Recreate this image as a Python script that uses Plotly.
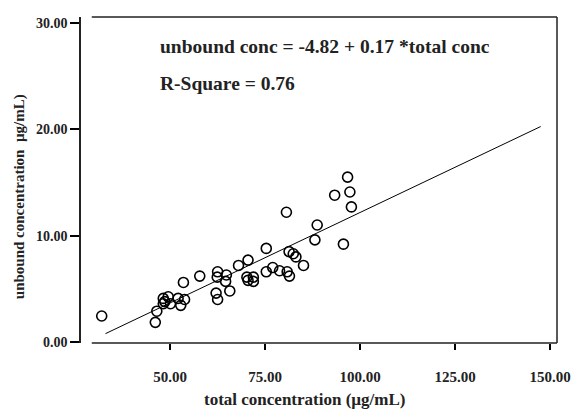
import plotly.graph_objects as go

total_conc = [32.0, 46.1, 46.5, 48.2, 48.6, 49.5, 50.1, 48.2, 52.1, 53.8, 52.8, 53.5,
              57.8, 62.1, 62.5, 62.4, 62.5, 64.6, 64.8, 65.7, 68.0, 70.5, 70.2, 70.5,
              71.9, 71.9, 75.3, 75.3, 77.0, 78.8, 80.6, 80.8, 81.4, 81.3, 82.4, 83.1,
              85.1, 88.1, 88.7, 93.3, 95.6, 96.7, 97.3, 97.7]
unbound_conc = [2.45, 1.85, 2.9, 4.1, 3.8, 4.25, 3.6, 3.6, 4.1, 4.0, 3.45, 5.6,
                6.2, 4.6, 4.0, 6.1, 6.6, 5.7, 6.3, 4.8, 7.2, 7.7, 6.1, 5.8,
                6.1, 5.7, 8.8, 6.6, 7.0, 6.7, 12.2, 6.6, 6.2, 8.5, 8.3, 8.0,
                7.2, 9.6, 11.0, 13.8, 9.2, 15.5, 14.1, 12.7]

intercept = -4.82
slope = 0.17
fit_x = [33.0, 147.5]
fit_y = [intercept + slope * v for v in fit_x]

x_ticks = [50, 75, 100, 125, 150]
y_ticks = [0, 10, 20, 30]

FONT = "Liberation Serif"

fig = go.Figure()
fig.add_trace(go.Scatter(x=fit_x, y=fit_y, mode="lines",
                         line=dict(color="black", width=1), showlegend=False))
fig.add_trace(go.Scatter(x=total_conc, y=unbound_conc, mode="markers",
                         marker=dict(symbol="circle-open", size=10, color="black",
                                     line=dict(color="black", width=1.6)),
                         showlegend=False))

fig.update_layout(
    width=583, height=411,
    margin=dict(l=81, r=16, t=17, b=68),
    paper_bgcolor="white", plot_bgcolor="white",
    font=dict(family=FONT, color="black"),
    xaxis=dict(range=[26.55, 151.8], showline=False, showgrid=False, zeroline=False,
               ticks="outside", ticklen=6, tickwidth=2, tickcolor="black",
               tickvals=x_ticks, ticktext=[f"<b>{v:.2f}</b>" for v in x_ticks],
               tickfont=dict(family=FONT, size=15, color="#222"),
               ticklabelstandoff=14),
    yaxis=dict(range=[-0.09, 30.55], showline=True, linecolor="#222", linewidth=1.5,
               showgrid=False, zeroline=False,
               ticks="outside", ticklen=9, tickwidth=2, tickcolor="black",
               tickvals=y_ticks, ticktext=[f"<b>{v:.2f}</b>" for v in y_ticks],
               tickfont=dict(family=FONT, size=14, color="#222")),
    shapes=[
        dict(type="line", xref="paper", yref="paper", x0=0.0226, x1=1, y0=0, y1=0,
             line=dict(color="#222", width=1.5)),
        dict(type="line", xref="paper", yref="paper", x0=0.0226, x1=1, y0=1, y1=1,
             line=dict(color="#222", width=1.5)),
        dict(type="line", xref="paper", yref="paper", x0=1, x1=1, y0=0, y1=1,
             line=dict(color="#222", width=1.5)),
    ],
    annotations=[
        dict(text="<b>unbound conc = -4.82 + 0.17 *total conc</b>", xref="paper", yref="paper",
             x=0.1626, y=0.908, xanchor="left", yanchor="middle", showarrow=False,
             font=dict(family=FONT, size=19.5, color="#222")),
        dict(text="<b>R-Square = 0.76</b>", xref="paper", yref="paper",
             x=0.1626, y=0.7975, xanchor="left", yanchor="middle", showarrow=False,
             font=dict(family=FONT, size=19.5, color="#222")),
        dict(text="<b>total concentration (µg/mL)</b>", xref="paper", yref="paper",
             x=0.469, y=-0.172, xanchor="center", yanchor="middle", showarrow=False,
             font=dict(family=FONT, size=17, color="#222")),
        dict(text="<b>unbound concentration  µg/mL)</b>", xref="paper", yref="paper",
             x=-0.1276, y=0.448, xanchor="center", yanchor="middle", showarrow=False,
             textangle=-90, font=dict(family=FONT, size=15, color="#222")),
    ],
)

fig.write_html("out.html")
